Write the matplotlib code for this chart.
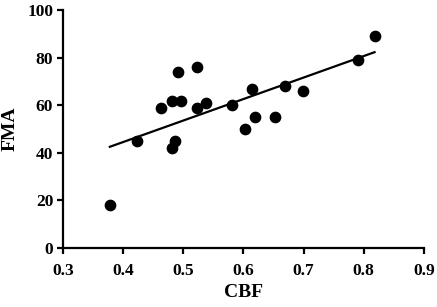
import matplotlib
matplotlib.use("Agg")
import matplotlib.pyplot as plt
import numpy as np

cbf = [0.378, 0.423, 0.463, 0.481, 0.486, 0.482, 0.496, 0.492, 0.523, 0.523,
       0.538, 0.581, 0.603, 0.615, 0.619, 0.652, 0.669, 0.699, 0.790, 0.818]
fma = [18, 45, 59, 42, 45, 62, 62, 74, 76, 59,
       61, 60, 50, 67, 55, 55, 68, 66, 79, 89]

x_ticks = [0.3, 0.4, 0.5, 0.6, 0.7, 0.8, 0.9]
y_ticks = [0, 20, 40, 60, 80, 100]

plt.rcParams['font.family'] = ['Liberation Serif', 'DejaVu Serif']
plt.rcParams['font.weight'] = 'bold'

fig = plt.figure(figsize=(4.37, 3.07), dpi=100)
ax = fig.add_axes([0.144, 0.192, 0.826, 0.775])

x = np.array(cbf)
y = np.array(fma)
slope, intercept = np.polyfit(x, y, 1)
xs = np.array([x.min(), x.max()])
ax.plot(xs, slope * xs + intercept, color='black', lw=1.6, zorder=2)
ax.scatter(x, y, s=55, color='black', zorder=3, clip_on=False)

ax.set_xlim(0.3, 0.9)
ax.set_ylim(0, 100)
ax.set_xticks(x_ticks)
ax.set_yticks(y_ticks)
ax.set_xticklabels([str(t) for t in x_ticks])
ax.set_yticklabels([str(t) for t in y_ticks])

for side in ['top', 'right']:
	ax.spines[side].set_visible(False)
for side in ['left', 'bottom']:
	ax.spines[side].set_linewidth(1.6)

ax.tick_params(width=1.6, length=4, labelsize=12.5)
ax.tick_params(axis='x', pad=7)
ax.tick_params(axis='y', pad=3)
for lab in ax.get_xticklabels() + ax.get_yticklabels():
	lab.set_fontweight('bold')

ax.set_xlabel('CBF', fontsize=14, fontweight='bold', labelpad=3)
ax.set_ylabel('FMA', fontsize=14, fontweight='bold', labelpad=6)

fig.savefig('out.png', dpi=100)
